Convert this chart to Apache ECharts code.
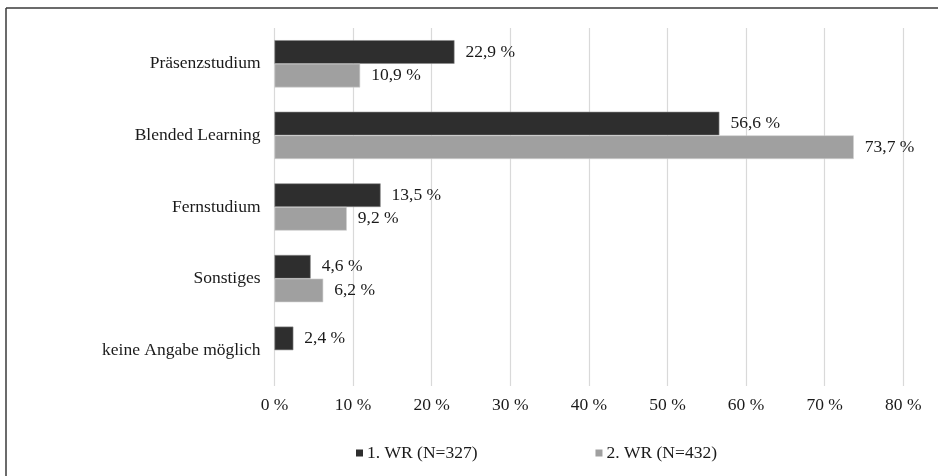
<!DOCTYPE html>
<html>
<head>
<meta charset="utf-8">
<script src="https://cdn.jsdelivr.net/npm/echarts@6/dist/echarts.min.js"></script>
<style>
  html, body { margin: 0; padding: 0; background: #fff; }
  #chart { width: 938px; height: 476px; }
</style>
</head>
<body>
<div id="chart"></div>
<script>
// Daten
const categories = ["Präsenzstudium", "Blended Learning", "Fernstudium", "Sonstiges", "keine Angabe möglich"];
const wr1 = [22.9, 56.6, 13.5, 4.6, 2.4];
const wr2 = [10.9, 73.7, 9.2, 6.2, null];
const seriesNames = ["1. WR (N=327)", "2. WR (N=432)"];
const xTicks = [0, 10, 20, 30, 40, 50, 60, 70, 80];

const font = "'Liberation Serif', 'DejaVu Serif', serif";
const textColor = "#1a1a1a";
const fs = 17.5;

const fmt = (v) => String(v.toFixed(1)).replace(".", ",") + " %";

const chart = echarts.init(document.getElementById("chart"));
chart.setOption({
  animation: false,
  textStyle: { fontFamily: font, color: textColor },
  graphic: [
    { type: "line", shape: { x1: 6, y1: 8, x2: 938, y2: 8 }, style: { stroke: "#3a3a3a", lineWidth: 1.5 } },
    { type: "line", shape: { x1: 6, y1: 8, x2: 6, y2: 476 }, style: { stroke: "#3a3a3a", lineWidth: 1.5 } },
  ],
  grid: { left: 274.5, right: 34.7, top: 28, bottom: 90, containLabel: false },
  legend: {
    left: 356,
    top: 444,
    padding: 0,
    itemWidth: 7,
    itemHeight: 7,
    itemGap: 118,
    icon: "rect",
    itemStyle: { borderWidth: 0 },
    textStyle: { fontFamily: font, fontSize: fs, color: textColor, padding: [0, 0, 0, -1] },
    data: seriesNames,
  },
  xAxis: {
    type: "value",
    min: xTicks[0],
    max: xTicks[xTicks.length - 1],
    interval: 10,
    axisLine: { show: false },
    axisTick: { show: false },
    axisLabel: { fontFamily: font, fontSize: fs, color: textColor, margin: 10, formatter: (v) => v + " %" },
    splitLine: { lineStyle: { color: "#d9d9d9", width: 1.2 } },
  },
  yAxis: {
    type: "category",
    inverse: true,
    data: categories,
    axisLine: { show: false },
    axisTick: { show: false },
    axisLabel: { fontFamily: font, fontSize: fs, color: textColor, margin: 14 },
  },
  series: [
    {
      name: seriesNames[0],
      type: "bar",
      data: wr1,
      barGap: "0%",
      barCategoryGap: "34%",
      itemStyle: { color: "#2e2e2e", borderColor: "#8a8a8a", borderWidth: 0.6 },
      label: { show: true, position: "right", distance: 11, fontFamily: font, fontSize: fs, color: textColor, formatter: (p) => fmt(p.value) },
    },
    {
      name: seriesNames[1],
      type: "bar",
      data: wr2,
      itemStyle: { color: "#a0a0a0", borderColor: "#d0d0d0", borderWidth: 0.6 },
      label: { show: true, position: "right", distance: 11, fontFamily: font, fontSize: fs, color: textColor, formatter: (p) => fmt(p.value) },
    },
  ],
});
</script>
</body>
</html>
